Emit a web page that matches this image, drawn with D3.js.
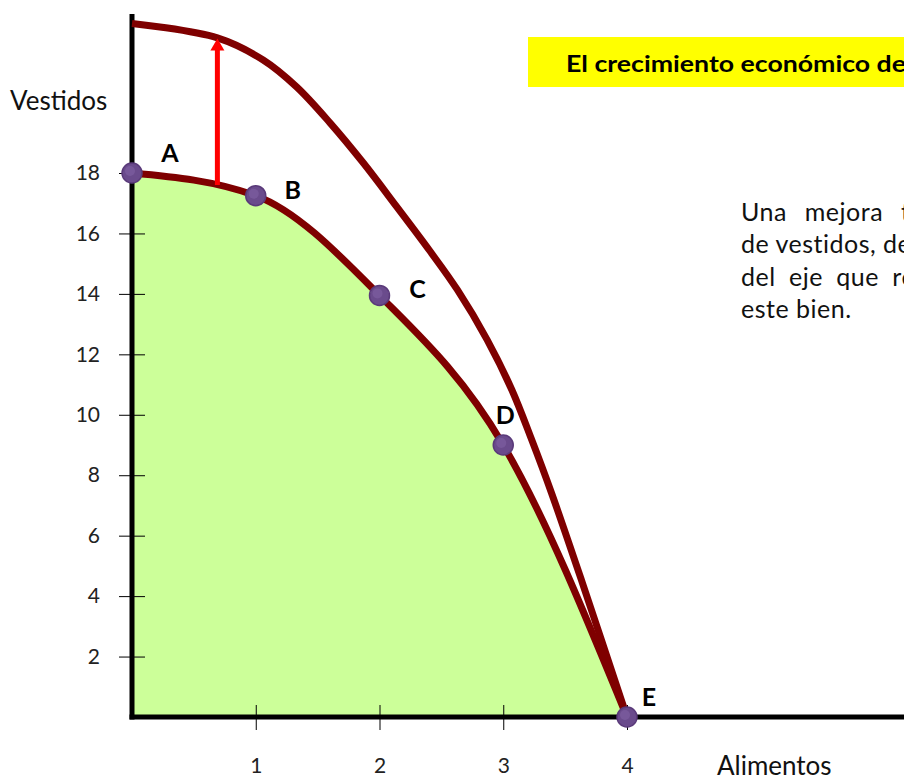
<!DOCTYPE html>
<html>
<head>
<meta charset="utf-8">
<script src="https://cdn.jsdelivr.net/npm/d3@7"></script>
<style>
  body { margin: 0; background: #fff; }
  svg { display: block; font-family: Lato, "Open Sans", sans-serif; }
</style>
</head>
<body>
<div id="chart"></div>
<script>

// data
var xTicks = [1, 2, 3, 4],
	yTicks = [2, 4, 6, 8, 10, 12, 14, 16, 18];

// original frontier, points A to E
var fppNames = ["A", "B", "C", "D", "E"],
	fppAlimentos = [0, 1, 2, 3, 4],
	fppVestidos = [18, 17.25, 13.95, 9.0, 0];

// frontier after the improvement
var nuevaAlimentos = [0, 0.69, 1.06, 1.33, 1.60, 1.87, 2.14, 2.40, 2.63, 2.87, 3.07, 3.23, 3.39, 3.64, 4],
	nuevaVestidos = [22.95, 22.47, 21.74, 20.85, 19.66, 18.33, 16.88, 15.46, 14.13, 12.48, 10.82, 9.17, 7.41, 4.43, 0];

// shift arrow
var flecha = {x: 0.69, from: 17.6, to: 22.45};

var titulo = "El crecimiento económico de";
var texto = ["Una mejora tecnológica", "de vestidos, desplaza", "del eje que representa", "este bien."];

// sizes
var width = 904,
	height = 780,
	origin = {x: 132, y: 717};

var svg = d3.select("#chart").append("svg")
	.attr("width", width)
	.attr("height", height);

// scales
var x = d3.scaleLinear().domain([0, 4]).range([origin.x, 627]),
	y = d3.scaleLinear().domain([0, 18]).range([origin.y, 173]);

var fpp = fppAlimentos.map(function(d, i){

	return {name: fppNames[i], x: d, y: fppVestidos[i]};
});
var nueva = nuevaAlimentos.map(function(d, i){

	return {x: d, y: nuevaVestidos[i]};
});

// green area under the original frontier
svg.append("path")
	.datum(fpp)
	.attr("fill", "#ccff99")
	.attr("d", d3.area()
		.x(function(d){ return x(d.x); })
		.y0(y(0))
		.y1(function(d){ return y(d.y); })
		.curve(d3.curveMonotoneX));

// y axis with ticks crossing the line
var yAxis = svg.append("g")
	.attr("transform", "translate(" + origin.x + ",0)")
	.call(d3.axisLeft(y).tickValues(yTicks).tickSize(13).tickPadding(19));
yAxis.select(".domain").remove();
yAxis.selectAll(".tick line").attr("x1", 13).attr("stroke", "#000");
yAxis.selectAll(".tick text")
	.attr("fill", "#222")
	.style("font-size", "21px")
	.style("font-family", "Lato, sans-serif");

// x axis
var xAxis = svg.append("g")
	.attr("transform", "translate(0," + origin.y + ")")
	.call(d3.axisBottom(x).tickValues(xTicks).tickFormat(d3.format("d")).tickSize(13).tickPadding(28));
xAxis.select(".domain").remove();
xAxis.selectAll(".tick line").attr("y1", -12).attr("stroke", "#000");
xAxis.selectAll(".tick text")
	.attr("fill", "#222")
	.style("font-size", "21px")
	.style("font-family", "Lato, sans-serif");

// thick axis lines
svg.append("line")
	.attr("x1", origin.x).attr("x2", origin.x)
	.attr("y1", 14).attr("y2", origin.y + 2.5)
	.attr("stroke", "#000").attr("stroke-width", 5);
svg.append("line")
	.attr("x1", origin.x - 2.5).attr("x2", width)
	.attr("y1", origin.y).attr("y2", origin.y)
	.attr("stroke", "#000").attr("stroke-width", 5);

// axis names
svg.append("text")
	.attr("x", 10).attr("y", 110)
	.attr("fill", "#111")
	.style("font-size", "26px")
	.text("Vestidos");
svg.append("text")
	.attr("x", 717).attr("y", 775)
	.attr("fill", "#111")
	.style("font-size", "26px")
	.text("Alimentos");

var line = d3.line()
	.x(function(d){ return x(d.x); })
	.y(function(d){ return y(d.y); });

// frontier lines
svg.append("path")
	.datum(nueva)
	.attr("fill", "none")
	.attr("stroke", "#7f0000")
	.attr("stroke-width", 7)
	.attr("d", line.curve(d3.curveCatmullRom.alpha(0.5)));

svg.append("path")
	.datum(fpp)
	.attr("fill", "none")
	.attr("stroke", "#7f0000")
	.attr("stroke-width", 7)
	.attr("d", line.curve(d3.curveMonotoneX));

// red arrow
svg.append("line")
	.attr("x1", x(flecha.x)).attr("x2", x(flecha.x))
	.attr("y1", y(flecha.from)).attr("y2", y(flecha.to) + 10)
	.attr("stroke", "#ff0000")
	.attr("stroke-width", 5);
svg.append("path")
	.attr("fill", "#ff0000")
	.attr("d", "M" + (x(flecha.x) - 7) + "," + (y(flecha.to) + 12) +
		"L" + x(flecha.x) + "," + y(flecha.to) +
		"L" + (x(flecha.x) + 7) + "," + (y(flecha.to) + 12) + "Z");

// purple points
var puntos = svg.selectAll(".punto")
	.data(fpp)
	.enter()
	.append("g")
	.attr("class", "punto")
	.attr("transform", function(d){

		return "translate(" + x(d.x) + "," + y(d.y) + ")";
	});
puntos.append("circle")
	.attr("r", 10)
	.attr("fill", "#6a4b8c")
	.attr("stroke", "#5a3a7a")
	.attr("stroke-width", 1.5);
puntos.append("circle")
	.attr("r", 5)
	.attr("cx", -2).attr("cy", -2)
	.attr("fill", "#7d5ea0")
	.attr("opacity", 0.7);

// point letters
var offsets = {A: [38, -20], B: [37, -5], C: [38, -6], D: [2, -30], E: [22, -20]};
svg.selectAll(".letra")
	.data(fpp)
	.enter()
	.append("text")
	.attr("class", "letra")
	.attr("x", function(d){ return x(d.x) + offsets[d.name][0]; })
	.attr("y", function(d){ return y(d.y) + offsets[d.name][1]; })
	.attr("text-anchor", "middle")
	.attr("dy", "0.35em")
	.style("font-size", "25px")
	.style("font-weight", "bold")
	.attr("fill", "#000")
	.text(function(d){ return d.name; });

// yellow title box
svg.append("rect")
	.attr("x", 528).attr("y", 37)
	.attr("width", width - 528).attr("height", 50)
	.attr("fill", "#ffff00");
svg.append("text")
	.attr("x", 566).attr("y", 72)
	.attr("textLength", 340)
	.attr("lengthAdjust", "spacingAndGlyphs")
	.style("font-size", "23px")
	.style("font-weight", "bold")
	.attr("fill", "#000")
	.text(titulo);

// explanation text, justified lines
var spacing = [11, 0, 6.5, 0];
svg.selectAll(".texto")
	.data(texto)
	.enter()
	.append("text")
	.attr("class", "texto")
	.attr("x", 741)
	.attr("y", function(d, i){ return 221 + i * 32.3; })
	.style("font-size", "25px")
	.style("letter-spacing", "0.5px")
	.style("word-spacing", function(d, i){ return spacing[i] + "px"; })
	.attr("fill", "#111")
	.text(function(d){ return d; });

</script>
</body>
</html>
